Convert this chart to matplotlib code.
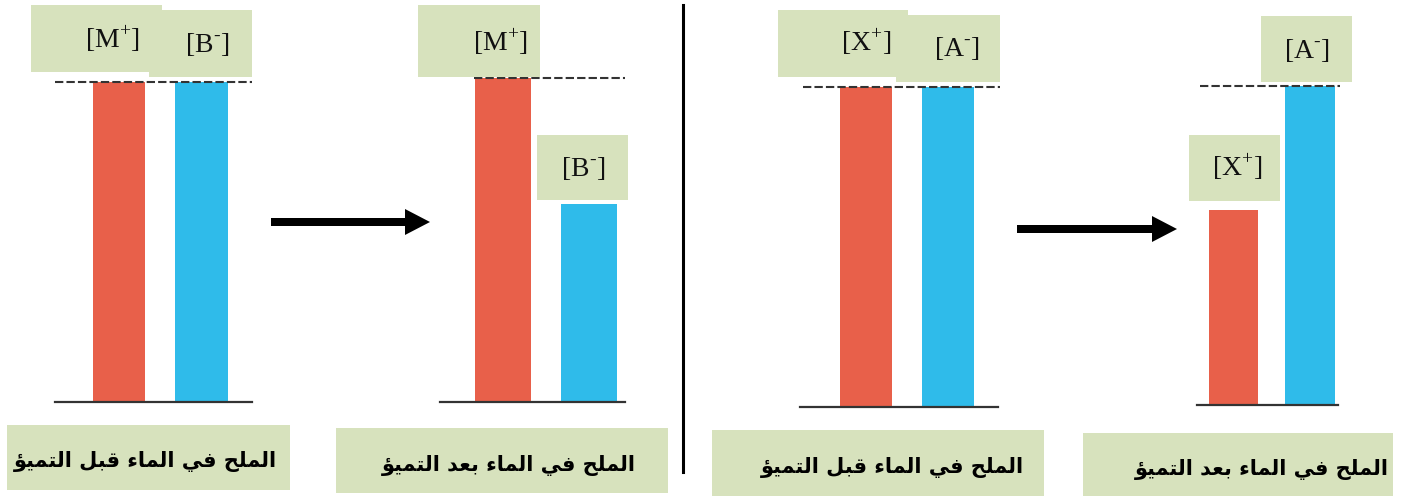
import matplotlib
matplotlib.use("Agg")
import matplotlib.pyplot as plt
from matplotlib.patches import Rectangle, FancyArrow

W, H = 1403, 496

# ---- data ----
panel_values = [[1.0, 1.0], [1.0, 0.61], [1.0, 1.0], [0.61, 1.0]]
ion_labels = [["[M$^{\\mathregular{+}}$]", "[B$^{\\mathregular{\u2010}}$]"],
              ["[M$^{\\mathregular{+}}$]", "[B$^{\\mathregular{\u2010}}$]"],
              ["[X$^{\\mathregular{+}}$]", "[A$^{\\mathregular{\u2010}}$]"],
              ["[X$^{\\mathregular{+}}$]", "[A$^{\\mathregular{\u2010}}$]"]]
captions = ["الملح في الماء قبل التميؤ", "الملح في الماء بعد التميؤ",
            "الملح في الماء قبل التميؤ", "الملح في الماء بعد التميؤ"]

RED = "#E8604A"
BLUE = "#2FBBEA"
GREEN = "#D7E2BD"
DARK = "#333333"

plt.rcParams["mathtext.fontset"] = "custom"
plt.rcParams["mathtext.rm"] = "Liberation Serif"

# ---- minimal Arabic shaping (presentation forms) ----
FORMS = {
    '\u0627': ('\uFE8D', '\uFE8E'),
    '\u0644': ('\uFEDD', '\uFEDE', '\uFEDF', '\uFEE0'),
    '\u0645': ('\uFEE1', '\uFEE2', '\uFEE3', '\uFEE4'),
    '\u062D': ('\uFEA1', '\uFEA2', '\uFEA3', '\uFEA4'),
    '\u0641': ('\uFED1', '\uFED2', '\uFED3', '\uFED4'),
    '\u064A': ('\uFEF1', '\uFEF2', '\uFEF3', '\uFEF4'),
    '\u0621': ('\uFE80',),
    '\u0642': ('\uFED5', '\uFED6', '\uFED7', '\uFED8'),
    '\u0628': ('\uFE8F', '\uFE90', '\uFE91', '\uFE92'),
    '\u0639': ('\uFEC9', '\uFECA', '\uFECB', '\uFECC'),
    '\u062F': ('\uFEA9', '\uFEAA'),
    '\u062A': ('\uFE95', '\uFE96', '\uFE97', '\uFE98'),
    '\u0624': ('\uFE85', '\uFE86'),
}


def shape(s):
    out = []
    for i, c in enumerate(s):
        f = FORMS.get(c)
        if f is None:
            out.append(c)
            continue
        prev = s[i - 1] if i > 0 else ''
        nxt = s[i + 1] if i + 1 < len(s) else ''
        jp = prev in FORMS and len(FORMS[prev]) == 4 and len(f) >= 2
        jn = len(f) == 4 and nxt in FORMS and len(FORMS[nxt]) >= 2
        idx = (1 if jp else 0) + (2 if jn else 0)
        out.append(f[idx])
    return ''.join(reversed(out))


fig = plt.figure(figsize=(W / 100, H / 100), dpi=100)

# panel layout: (x_left, x_right, baseline, top, center_red, spacing, bar width frac, dash start, dash end)
layout = [
    (55, 252, 402, 82, 119, 82.5, 0.64, 55, 252),
    (440, 625, 402, 78, 503, 86, 0.65, 474, 625),
    (800, 998, 407, 87, 866, 82, 0.646, 803, 1000),
    (1197, 1338, 405, 86, 1233.5, 76.5, 0.65, 1200, 1340),
]

for vals, (x0, x1, yb, yt, cr, sp, bw, d0, d1) in zip(panel_values, layout):
    ax = fig.add_axes([x0 / W, (H - yb) / H, (x1 - x0) / W, (yb - yt) / H])
    xl = (x0 - cr) / sp
    xr = (x1 - cr) / sp
    ax.set_xlim(xl, xr)
    ax.set_ylim(0, 1)
    ax.bar([0, 1], vals, width=bw, color=[RED, BLUE], zorder=2)
    ax.axhline(0, color=DARK, lw=1.6, clip_on=False, zorder=3)
    ax.plot([(d0 - cr) / sp, (d1 - cr) / sp], [1, 1], color=DARK, lw=1.5,
            ls=(0, (4, 1.5)), clip_on=False, zorder=3)
    ax.axis("off")

# overlay in pixel coordinates
ov = fig.add_axes([0, 0, 1, 1], zorder=10)
ov.set_xlim(0, W)
ov.set_ylim(H, 0)
ov.axis("off")
ov.patch.set_alpha(0)

# ion label boxes: (x0, y0, x1, y1, text_x, text_y)
ion_boxes = [
    [(31, 5, 162, 72, 113, 39), (149, 10, 252, 77, 207, 45)],
    [(418, 5, 540, 77, 501, 42), (537, 135, 628, 200, 583, 168)],
    [(778, 10, 908, 77, 866, 42), (896, 15, 1000, 82, 957, 49)],
    [(1189, 135, 1280, 201, 1237, 167), (1261, 16, 1352, 82, 1307, 51)],
]
for labs, boxes in zip(ion_labels, ion_boxes):
    for lab, (bx0, by0, bx1, by1, tx, ty) in zip(labs, boxes):
        ov.add_patch(Rectangle((bx0, by0), bx1 - bx0, by1 - by0,
                               facecolor=GREEN, edgecolor="none"))
        ov.text(tx, ty, lab, fontsize=20, family="Liberation Serif",
                ha="center", va="center", color="#111111")

# caption boxes
cap_boxes = [(7, 425, 290, 490, 145, 462), (336, 428, 668, 493, 509, 465),
             (712, 430, 1044, 496, 892, 467), (1083, 433, 1393, 499, 1262, 470)]
for cap, (bx0, by0, bx1, by1, tx, ty) in zip(captions, cap_boxes):
    ov.add_patch(Rectangle((bx0, by0), bx1 - bx0, by1 - by0,
                           facecolor=GREEN, edgecolor="none"))
    ov.text(tx, ty, shape(cap), fontsize=15, fontweight="bold",
            family="DejaVu Sans", ha="center", va="center", color="black")

# arrows
for (ax0, ax1, ay) in [(271, 430, 222), (1017, 1177, 229)]:
    ov.add_patch(FancyArrow(ax0, ay, ax1 - ax0, 0, width=8, head_width=26,
                            head_length=25, length_includes_head=True,
                            color="black", lw=0))

# vertical divider
ov.plot([683, 683], [5, 472], color="black", lw=2.2)

fig.savefig("out.png", dpi=100)
